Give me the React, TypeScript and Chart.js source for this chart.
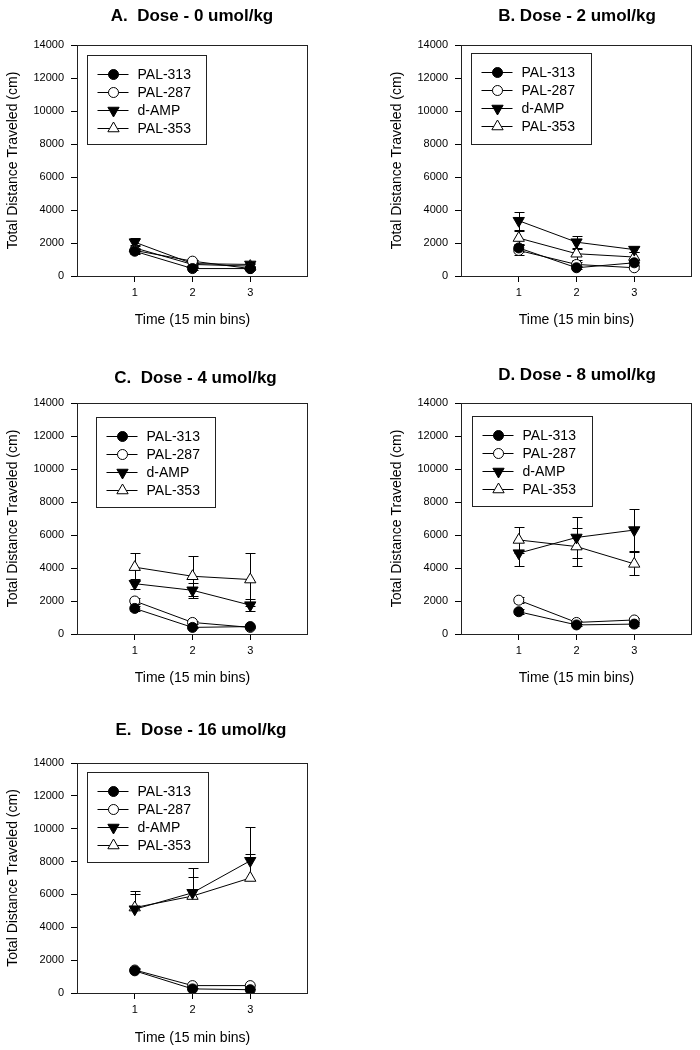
import React, { useEffect, useRef } from "react";
import { Chart, registerables } from "chart.js";

Chart.register(...registerables);

// ---------- data ----------
const timeBins = [1, 2, 3];
const xTickValues = [1, 2, 3];
const yMax = 14000;
const yStep = 2000;
const seriesNames = ["PAL-313", "PAL-287", "d-AMP", "PAL-353"];
const panelTitles = [
  "A.  Dose - 0 umol/kg",
  "B. Dose - 2 umol/kg",
  "C.  Dose - 4 umol/kg",
  "D. Dose - 8 umol/kg",
  "E.  Dose - 16 umol/kg",
];
const xAxisTitle = "Time (15 min bins)";
const yAxisTitle = "Total Distance Traveled (cm)";

// Dose 0
const pal313Dose0 = [1500, 450, 450];
const pal313Dose0Err = [150, 100, 100];
const pal287Dose0 = [1550, 900, 450];
const pal287Dose0Err = [150, 100, 100];
const dampDose0 = [2050, 750, 700];
const dampDose0Err = [250, 100, 100];
const pal353Dose0 = [1700, 700, 600];
const pal353Dose0Err = [200, 100, 100];

// Dose 2
const pal313Dose2 = [1700, 500, 800];
const pal313Dose2Err = [250, 100, 150];
const pal287Dose2 = [1550, 700, 500];
const pal287Dose2Err = [300, 150, 100];
const dampDose2 = [3350, 2050, 1600];
const dampDose2Err = [550, 400, 150];
const pal353Dose2 = [2300, 1350, 1150];
const pal353Dose2Err = [400, 350, 300];

// Dose 4
const pal313Dose4 = [1550, 400, 450];
const pal313Dose4Err = [150, 50, 50];
const pal287Dose4 = [2000, 700, 400];
const pal287Dose4Err = [200, 100, 50];
const dampDose4 = [3050, 2650, 1750];
const dampDose4Err = [300, 450, 350];
const pal353Dose4 = [4050, 3500, 3300];
const pal353Dose4Err = [850, 1200, 1600];

// Dose 8
const pal313Dose8 = [1350, 550, 600];
const pal313Dose8Err = [150, 50, 100];
const pal287Dose8 = [2050, 700, 850];
const pal287Dose8Err = [200, 100, 100];
const dampDose8 = [4900, 5850, 6300];
const dampDose8Err = [780, 1250, 1300];
const pal353Dose8 = [5700, 5300, 4250];
const pal353Dose8Err = [800, 1150, 700];

// Dose 16
const pal313Dose16 = [1350, 250, 200];
const pal313Dose16Err = [100, 50, 50];
const pal287Dose16 = [1400, 450, 450];
const pal287Dose16Err = [100, 50, 50];
const dampDose16 = [5100, 6100, 8050];
const dampDose16Err = [1100, 1500, 2050];
const pal353Dose16 = [5200, 5900, 7000];
const pal353Dose16Err = [800, 1150, 1450];

const panelValues = [
  [pal313Dose0, pal287Dose0, dampDose0, pal353Dose0],
  [pal313Dose2, pal287Dose2, dampDose2, pal353Dose2],
  [pal313Dose4, pal287Dose4, dampDose4, pal353Dose4],
  [pal313Dose8, pal287Dose8, dampDose8, pal353Dose8],
  [pal313Dose16, pal287Dose16, dampDose16, pal353Dose16],
];
const panelErrors = [
  [pal313Dose0Err, pal287Dose0Err, dampDose0Err, pal353Dose0Err],
  [pal313Dose2Err, pal287Dose2Err, dampDose2Err, pal353Dose2Err],
  [pal313Dose4Err, pal287Dose4Err, dampDose4Err, pal353Dose4Err],
  [pal313Dose8Err, pal287Dose8Err, dampDose8Err, pal353Dose8Err],
  [pal313Dose16Err, pal287Dose16Err, dampDose16Err, pal353Dose16Err],
];

// ---------- style / layout ----------
const FONT = "'Liberation Sans', Arial, Helvetica, sans-serif";
const INK = "#000";
const CANVAS_W = 316;

const markerStyles = [
  { pointStyle: "circle", fill: "#000", radius: 5, rotation: 0 },
  { pointStyle: "circle", fill: "#fff", radius: 5, rotation: 0 },
  { pointStyle: "triangle", fill: "#000", radius: 6.5, rotation: 180 },
  { pointStyle: "triangle", fill: "#fff", radius: 6.5, rotation: 0 },
];

type PanelLayout = {
  left: number;
  top: number;
  height: number;
  plotBottom: number;
  titleDx: number;
  titleDy: number;
  legendDx: number;
  legendDy: number;
  legendW: number;
  legendH: number;
  errDown: boolean;
};

const panelLayouts: PanelLayout[] = [
  { left: 0, top: 0, height: 335, plotBottom: 276, titleDx: 115, titleDy: -29, legendDx: 10, legendDy: 10, legendW: 119, legendH: 89, errDown: true },
  { left: 384, top: 0, height: 335, plotBottom: 276, titleDx: 116, titleDy: -29, legendDx: 10, legendDy: 8, legendW: 120, legendH: 91, errDown: true },
  { left: 0, top: 358, height: 335, plotBottom: 276, titleDx: 118.5, titleDy: -25, legendDx: 19, legendDy: 14, legendW: 119, legendH: 90, errDown: true },
  { left: 384, top: 358, height: 335, plotBottom: 276, titleDx: 116, titleDy: -28, legendDx: 11, legendDy: 13, legendW: 120, legendH: 90, errDown: true },
  { left: 0, top: 718, height: 332, plotBottom: 275, titleDx: 124, titleDy: -33, legendDx: 10, legendDy: 9, legendW: 121, legendH: 90, errDown: false },
];

function drawMarker(ctx: CanvasRenderingContext2D, idx: number, x: number, y: number) {
  const m = markerStyles[idx];
  ctx.save();
  ctx.beginPath();
  if (m.pointStyle === "circle") {
    ctx.arc(x, y, m.radius, 0, Math.PI * 2);
  } else {
    const r = m.radius;
    let rad = (m.rotation * Math.PI) / 180;
    ctx.moveTo(x + Math.sin(rad) * r, y - Math.cos(rad) * r);
    rad += (2 * Math.PI) / 3;
    ctx.lineTo(x + Math.sin(rad) * r, y - Math.cos(rad) * r);
    rad += (2 * Math.PI) / 3;
    ctx.lineTo(x + Math.sin(rad) * r, y - Math.cos(rad) * r);
    ctx.closePath();
  }
  ctx.fillStyle = m.fill;
  ctx.fill();
  ctx.lineWidth = 1;
  ctx.strokeStyle = INK;
  ctx.stroke();
  ctx.restore();
}

function makeDecorPlugin(panelIdx: number) {
  const lay = panelLayouts[panelIdx];
  return {
    id: "panelDecor" + panelIdx,
    beforeDatasetsDraw(chart: any) {
      const ctx = chart.ctx as CanvasRenderingContext2D;
      const xs = chart.scales.x;
      const ys = chart.scales.y;
      ctx.save();
      ctx.strokeStyle = INK;
      ctx.lineWidth = 1;
      panelValues[panelIdx].forEach((vals, si) => {
        const errs = panelErrors[panelIdx][si];
        vals.forEach((v, i) => {
          const px = Math.round(xs.getPixelForValue(timeBins[i])) + 0.5;
          const yMid = Math.round(ys.getPixelForValue(v)) + 0.5;
          const yHi = Math.round(ys.getPixelForValue(v + errs[i])) + 0.5;
          const yLo = lay.errDown ? Math.round(ys.getPixelForValue(v - errs[i])) + 0.5 : yMid;
          ctx.beginPath();
          ctx.moveTo(px, yHi);
          ctx.lineTo(px, yLo);
          ctx.moveTo(px - 5, yHi);
          ctx.lineTo(px + 5, yHi);
          if (lay.errDown) {
            ctx.moveTo(px - 5, yLo);
            ctx.lineTo(px + 5, yLo);
          }
          ctx.stroke();
        });
      });
      ctx.restore();
    },
    afterDraw(chart: any) {
      const ctx = chart.ctx as CanvasRenderingContext2D;
      const a = chart.chartArea;
      ctx.save();
      // frame
      ctx.strokeStyle = "#222";
      ctx.lineWidth = 1;
      ctx.strokeRect(Math.round(a.left) + 0.5, Math.round(a.top) + 0.5, Math.round(a.right - a.left) - 1, Math.round(a.bottom - a.top));
      // title
      ctx.fillStyle = INK;
      ctx.font = `bold 17px ${FONT}`;
      ctx.textAlign = "center";
      ctx.textBaseline = "middle";
      ctx.fillText(panelTitles[panelIdx], a.left + lay.titleDx, a.top + lay.titleDy);
      // legend
      const lx = Math.round(a.left + lay.legendDx) + 0.5;
      const ly = Math.round(a.top + lay.legendDy) + 0.5;
      ctx.strokeStyle = "#222";
      ctx.strokeRect(lx, ly, lay.legendW, lay.legendH);
      ctx.font = `14px ${FONT}`;
      ctx.textAlign = "left";
      ctx.textBaseline = "middle";
      seriesNames.forEach((name, si) => {
        const ry = Math.round(ly + 18 + si * 18) + 0.5;
        ctx.strokeStyle = INK;
        ctx.beginPath();
        ctx.moveTo(lx + 10, ry);
        ctx.lineTo(lx + 41, ry);
        ctx.stroke();
        drawMarker(ctx, si, lx + 26, ry);
        ctx.fillStyle = INK;
        ctx.fillText(name, lx + 50, ry + 1);
      });
      ctx.restore();
    },
  };
}

function Panel({ idx }: { idx: number }) {
  const ref = useRef<HTMLCanvasElement | null>(null);
  const lay = panelLayouts[idx];
  useEffect(() => {
    if (!ref.current) return;
    const xAxisHeight = lay.height - lay.plotBottom;
    const chart = new Chart(ref.current, {
      type: "line",
      data: {
        datasets: seriesNames.map((name, si) => ({
          label: name,
          data: panelValues[idx][si].map((v, i) => ({ x: timeBins[i], y: v })),
          borderColor: INK,
          borderWidth: 1,
          pointStyle: markerStyles[si].pointStyle as any,
          pointRotation: markerStyles[si].rotation,
          pointRadius: markerStyles[si].radius,
          pointBackgroundColor: markerStyles[si].fill,
          pointBorderColor: INK,
          pointBorderWidth: 1,
          fill: false,
          tension: 0,
        })),
      },
      options: {
        animation: false,
        responsive: false,
        devicePixelRatio: 1,
        layout: { padding: { top: 45, left: 0, right: CANVAS_W - 308, bottom: 0 } },
        plugins: {
          legend: { display: false },
          title: { display: false },
          tooltip: { enabled: false },
        },
        scales: {
          x: {
            type: "linear",
            min: 0,
            max: 4,
            afterBuildTicks: (s: any) => {
              s.ticks = xTickValues.map((v) => ({ value: v }));
            },
            afterFit: (s: any) => {
              s.height = xAxisHeight;
            },
            grid: { drawOnChartArea: false, drawTicks: true, tickLength: 6, color: INK, lineWidth: 1 },
            border: { display: false },
            ticks: {
              padding: 4,
              color: INK,
              autoSkip: false,
              maxRotation: 0,
              font: { size: 11, family: FONT },
              callback: (v: any) => String(v),
            },
            title: {
              display: true,
              text: xAxisTitle,
              color: INK,
              font: { size: 14, family: FONT },
              padding: { top: 0, bottom: lay.height - 320 - 8.4 },
            },
          },
          y: {
            type: "linear",
            min: 0,
            max: yMax,
            afterFit: (s: any) => {
              s.width = 77;
            },
            grid: { drawOnChartArea: false, drawTicks: true, tickLength: 6, color: INK, lineWidth: 1 },
            border: { display: false },
            ticks: {
              stepSize: yStep,
              padding: 7,
              color: INK,
              font: { size: 11, family: FONT },
              callback: (v: any) => String(v),
            },
            title: {
              display: true,
              text: yAxisTitle,
              color: INK,
              font: { size: 14, family: FONT },
              padding: { top: 13 - 8.4, bottom: 0 },
            },
          },
        },
      },
      plugins: [makeDecorPlugin(idx)],
    });
    return () => chart.destroy();
  }, [idx]);
  return (
    <canvas
      ref={ref}
      width={CANVAS_W}
      height={lay.height}
      style={{ position: "absolute", left: lay.left, top: lay.top, width: CANVAS_W, height: lay.height }}
    />
  );
}

export default function App() {
  return (
    <div
      style={{
        position: "absolute",
        left: 0,
        top: 0,
        width: 700,
        height: 1050,
        overflow: "hidden",
        background: "#fff",
      }}
    >
      {panelTitles.map((_, i) => (
        <Panel key={i} idx={i} />
      ))}
    </div>
  );
}
